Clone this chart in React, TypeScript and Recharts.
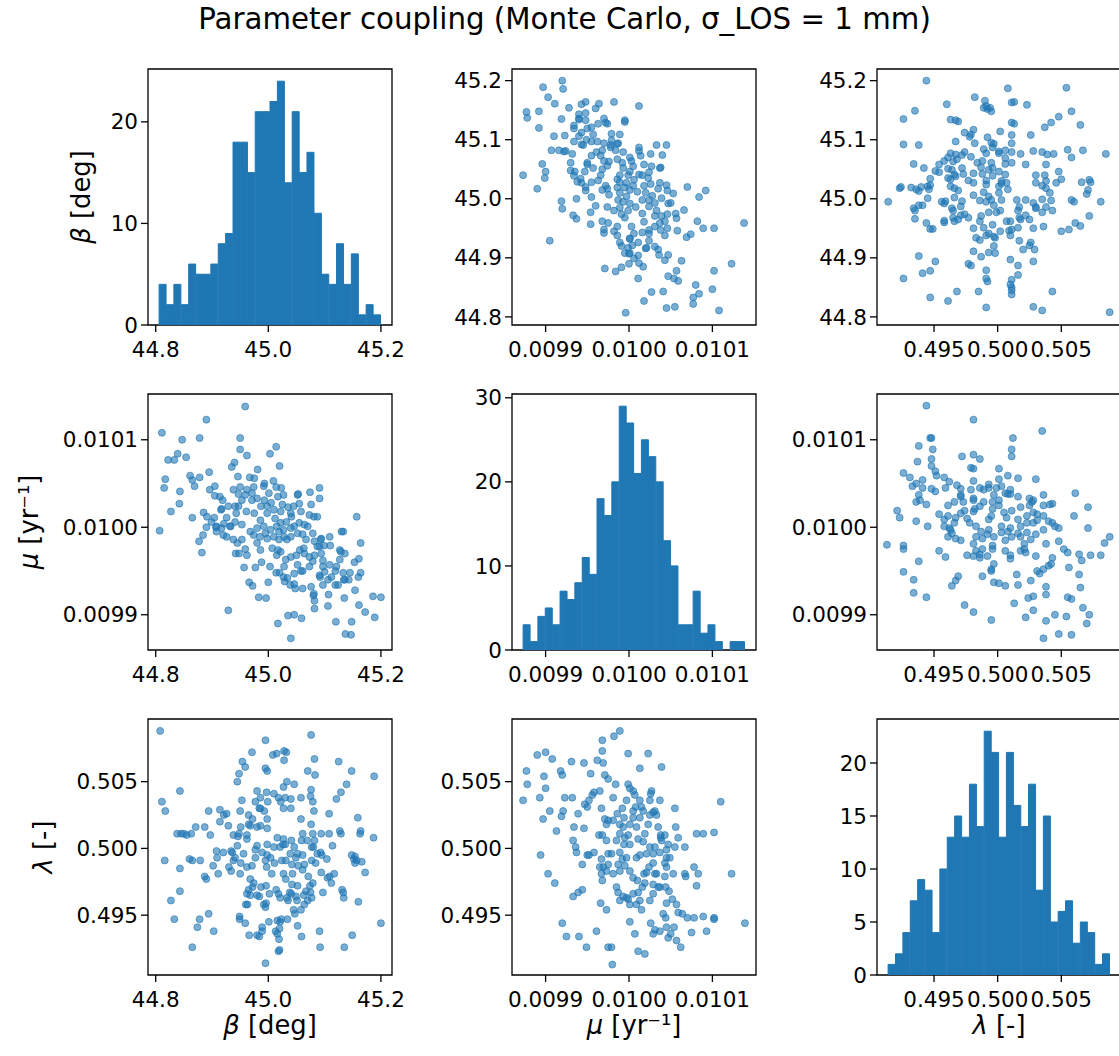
import React from 'react';
import { ScatterChart, Scatter, ComposedChart, Bar, XAxis, YAxis, ReferenceArea, Label } from 'recharts';

const FONT = '"DejaVu Sans", Verdana, sans-serif';
const BLUE = '#1f77b4';

// histogram: sample min/max and counts for 30 bins
const betaRange = [44.806, 45.2];
const betaCounts = [4, 2, 4, 2, 6, 5, 5, 6, 8, 9, 18, 18, 15, 21, 21, 22, 24, 14, 21, 15, 17, 11, 5, 4, 8, 4, 7, 1, 2, 1];
const muRange = [0.009873, 0.010139];
const muCounts = [3, 1, 4, 5, 3, 7, 6, 8, 11, 9, 18, 16, 20, 29, 27, 21, 25, 23, 20, 13, 10, 3, 3, 7, 2, 3, 1, 0, 1, 1];
const lamRange = [0.49139, 0.50882];
const lamCounts = [1, 2, 4, 7, 9, 8, 4, 10, 13, 15, 13, 18, 14, 23, 21, 13, 21, 16, 14, 18, 8, 15, 5, 6, 7, 3, 5, 4, 1, 2];

// tick labels
const betaTicks = [44.8, 45.0, 45.2];
const betaTicksFine = [44.8, 44.9, 45.0, 45.1, 45.2];
const muTicks = [0.0099, 0.01, 0.0101];
const lamTicks = [0.495, 0.5, 0.505];
const betaCountTicks = [0, 10, 20];
const muCountTicks = [0, 10, 20, 30];
const lamCountTicks = [0, 5, 10, 15, 20];

// Monte Carlo samples: [beta, mu]
const betaMu: [number, number][] = [
  [44.959, 0.010138], [44.890, 0.010123], [44.811, 0.010108], [44.878, 0.010102], [44.847, 0.010100], [44.950, 0.010102], [45.014, 0.010092], [44.950, 0.010089], [44.962, 0.010082], [45.003, 0.010084],
  [45.020, 0.010070], [44.822, 0.010077], [44.839, 0.010084], [44.833, 0.010077], [44.854, 0.010080], [44.935, 0.010069], [44.940, 0.010074], [44.981, 0.010066], [44.817, 0.010055], [44.815, 0.010045],
  [44.843, 0.010041], [44.861, 0.010059], [44.865, 0.010054], [44.869, 0.010047], [44.878, 0.010057], [44.895, 0.010063], [44.946, 0.010058], [44.975, 0.010056], [44.993, 0.010050], [45.009, 0.010053],
  [45.091, 0.010045], [45.091, 0.010033], [45.074, 0.010040], [45.053, 0.010038], [45.023, 0.010045], [44.896, 0.010043], [44.905, 0.010047], [44.914, 0.010035], [44.919, 0.010031], [44.905, 0.010036],
  [44.827, 0.010018], [44.842, 0.010027], [44.865, 0.010011], [44.885, 0.010017], [44.891, 0.010012], [44.904, 0.010011], [44.916, 0.010020], [44.926, 0.010011], [44.933, 0.010001], [44.890, 0.010000],
  [44.907, 0.010000], [44.877, 0.009984], [44.884, 0.009991], [44.908, 0.009995], [44.920, 0.009991], [44.926, 0.009989], [44.938, 0.009986], [44.945, 0.009982], [44.948, 0.009970], [44.959, 0.009975],
  [44.962, 0.009968], [44.942, 0.009970], [44.882, 0.009971], [44.807, 0.009996], [44.957, 0.009954], [44.977, 0.009954], [44.988, 0.009960], [45.003, 0.009955], [45.014, 0.009948], [45.020, 0.009948],
  [45.029, 0.009938], [45.046, 0.009935], [45.027, 0.009943], [45.000, 0.009937], [44.966, 0.009937], [44.972, 0.009933], [44.983, 0.009920], [44.996, 0.009919], [44.929, 0.009905], [45.017, 0.009890],
  [45.035, 0.009899], [45.046, 0.009900], [45.040, 0.009873], [45.059, 0.009896], [45.080, 0.009922], [45.082, 0.009916], [45.082, 0.009907], [45.106, 0.009910], [45.120, 0.009892], [45.137, 0.009878],
  [45.147, 0.009877], [45.148, 0.009892], [45.161, 0.009911], [45.172, 0.009903], [45.189, 0.009897], [45.186, 0.009921], [45.200, 0.009920], [45.154, 0.009928], [45.160, 0.009943], [45.164, 0.009948],
  [45.153, 0.009960], [45.161, 0.009964], [45.157, 0.010012], [45.130, 0.009995], [45.133, 0.009995], [45.164, 0.009982], [45.127, 0.009974], [45.127, 0.009963], [45.119, 0.009950], [45.133, 0.009948],
  [45.134, 0.009940], [45.112, 0.009943], [45.106, 0.009940], [45.119, 0.009934], [45.135, 0.009919], [45.124, 0.009934], [45.100, 0.009949], [45.091, 0.009945], [45.109, 0.009989], [45.110, 0.009979],
  [45.094, 0.009987], [45.097, 0.009962], [45.092, 0.009943], [45.082, 0.009968], [45.079, 0.009961], [45.073, 0.009966], [45.063, 0.009976], [45.056, 0.009974], [45.061, 0.009950], [45.058, 0.009950],
  [45.046, 0.009947], [45.028, 0.009955], [45.031, 0.009963], [45.040, 0.009966], [45.050, 0.009968], [45.076, 0.009932], [45.091, 0.009978], [45.093, 0.009986], [45.076, 0.010026], [45.073, 0.010014],
  [45.058, 0.010018], [45.045, 0.010024], [45.041, 0.010012], [45.046, 0.010001], [45.064, 0.010003], [45.070, 0.010001], [45.081, 0.010012], [45.087, 0.010012], [45.079, 0.009993], [45.061, 0.009992],
  [45.052, 0.009993], [45.040, 0.009989], [45.033, 0.009986], [45.028, 0.009989], [45.019, 0.009986], [45.022, 0.010005], [45.027, 0.010037], [45.014, 0.010046], [45.017, 0.010035], [45.025, 0.010026],
  [45.010, 0.010020], [44.998, 0.010016], [44.992, 0.010001], [44.986, 0.010008], [44.987, 0.010024], [44.980, 0.010033], [44.971, 0.010039], [44.962, 0.010043], [44.959, 0.010037], [44.953, 0.010031],
  [44.947, 0.010024], [44.941, 0.010024], [44.943, 0.010016], [44.961, 0.010018], [44.975, 0.010016], [44.980, 0.009999], [44.974, 0.009991], [44.998, 0.009987], [45.010, 0.009989], [45.007, 0.009976],
  [45.017, 0.009974], [45.015, 0.009968], [45.022, 0.009972], [44.986, 0.009974], [44.980, 0.009982], [44.968, 0.009995], [44.953, 0.010003], [44.941, 0.010006], [44.974, 0.010046], [44.992, 0.010047],
  [45.001, 0.010039], [45.005, 0.010028], [45.012, 0.010010], [45.032, 0.010006], [45.040, 0.010016], [45.035, 0.010023], [45.052, 0.010037], [45.055, 0.010027], [45.022, 0.010018], [45.027, 0.009997],
  [45.004, 0.009997], [44.995, 0.009993], [44.985, 0.009989], [44.953, 0.009986], [44.932, 0.010001], [44.921, 0.010004], [44.917, 0.009999], [44.908, 0.010001], [44.899, 0.010006], [44.917, 0.010021],
  [44.929, 0.010024], [44.947, 0.010038], [44.938, 0.010043], [44.950, 0.010046], [44.967, 0.010057], [44.971, 0.010031], [44.993, 0.010031], [44.998, 0.010024], [45.015, 0.010001], [45.019, 0.009995],
  [45.040, 0.009999], [45.055, 0.010005], [45.067, 0.009986], [45.082, 0.009984], [45.064, 0.009970], [45.087, 0.009978], [45.099, 0.009979], [45.097, 0.009955], [45.073, 0.009955], [45.052, 0.009957],
  [45.034, 0.009942], [45.039, 0.009934], [45.048, 0.009930], [45.061, 0.009930], [45.081, 0.009924], [45.097, 0.009934], [45.107, 0.009923], [45.143, 0.009940], [45.136, 0.009940], [45.145, 0.009948],
  [45.129, 0.009972], [45.136, 0.009970], [45.121, 0.009955], [45.109, 0.009957], [45.094, 0.009970],
];

// [beta, lambda]
const betaLam: [number, number][] = [
  [44.808, 0.5088], [44.811, 0.5035], [44.817, 0.5028], [44.843, 0.5043], [44.816, 0.4991], [44.843, 0.4985], [44.843, 0.4968], [44.827, 0.4961], [44.833, 0.4947], [44.874, 0.4941],
  [44.878, 0.4947], [44.894, 0.4951], [44.903, 0.4938], [44.865, 0.4926], [44.838, 0.5011], [44.845, 0.5011], [44.850, 0.5011], [44.855, 0.5010], [44.863, 0.5011], [44.871, 0.5016],
  [44.887, 0.5016], [44.897, 0.5010], [44.860, 0.4992], [44.865, 0.4991], [44.879, 0.4991], [44.887, 0.4979], [44.890, 0.4977], [44.902, 0.4987], [44.911, 0.4981], [44.894, 0.5028],
  [44.914, 0.5029], [44.914, 0.5020], [44.921, 0.5025], [44.926, 0.5026], [44.929, 0.5017], [44.908, 0.4998], [44.909, 0.4993], [44.920, 0.4997], [44.934, 0.4998], [44.930, 0.4986],
  [44.934, 0.4983], [44.938, 0.4991], [44.945, 0.5002], [44.946, 0.5009], [44.948, 0.5011], [44.951, 0.5016], [44.938, 0.5010], [44.962, 0.5010], [44.968, 0.5017], [44.965, 0.5025],
  [44.950, 0.5028], [44.953, 0.5036], [44.945, 0.5050], [44.948, 0.5056], [44.959, 0.5061], [44.954, 0.5065], [44.971, 0.5072], [44.995, 0.5081], [44.995, 0.5060], [44.998, 0.5058],
  [45.008, 0.5070], [45.015, 0.5071], [45.028, 0.5073], [45.032, 0.5072], [45.028, 0.5066], [45.076, 0.5085], [45.082, 0.5067], [45.070, 0.5058], [45.083, 0.5055], [45.125, 0.5065],
  [45.148, 0.5058], [45.188, 0.5054], [45.139, 0.5048], [45.129, 0.5042], [45.121, 0.5037], [45.108, 0.5026], [45.127, 0.5013], [45.129, 0.5011], [45.159, 0.5023], [45.164, 0.5013],
  [45.163, 0.5011], [45.187, 0.5008], [45.148, 0.4995], [45.157, 0.4991], [45.154, 0.4989], [45.166, 0.4990], [45.172, 0.4982], [45.160, 0.4960], [45.131, 0.4969], [45.133, 0.4967],
  [45.134, 0.4963], [45.200, 0.4944], [45.149, 0.4935], [45.135, 0.4926], [45.092, 0.4926], [45.091, 0.4938], [45.059, 0.4934], [45.052, 0.4942], [45.047, 0.4951], [45.045, 0.4954],
  [45.034, 0.4947], [45.035, 0.4961], [45.020, 0.4940], [45.021, 0.4945], [45.016, 0.4936], [45.019, 0.4932], [45.020, 0.4924], [45.018, 0.4923], [45.013, 0.4938], [45.016, 0.4946],
  [45.023, 0.4947], [45.001, 0.4945], [44.995, 0.4914], [44.980, 0.4935], [44.989, 0.4941], [44.989, 0.4938], [44.984, 0.4934], [44.966, 0.4935], [44.959, 0.4944], [44.949, 0.4949],
  [44.949, 0.4947], [44.960, 0.4958], [44.963, 0.4958], [44.968, 0.4965], [44.965, 0.4969], [44.962, 0.4966], [44.972, 0.4971], [44.974, 0.4974], [44.980, 0.4965], [44.984, 0.4964],
  [44.992, 0.4958], [44.995, 0.4956], [44.996, 0.4959], [44.987, 0.4971], [44.996, 0.4972], [45.002, 0.4966], [45.014, 0.4969], [45.018, 0.4966], [45.021, 0.4963], [45.033, 0.4963],
  [45.038, 0.4967], [45.049, 0.4964], [45.051, 0.4961], [45.063, 0.4965], [45.067, 0.4968], [45.074, 0.4972], [45.079, 0.4974], [45.075, 0.4967], [45.077, 0.4963], [45.070, 0.4961],
  [45.064, 0.4958], [45.058, 0.4954], [45.082, 0.5006], [45.080, 0.5001], [45.093, 0.4997], [45.095, 0.4995], [45.087, 0.4996], [45.084, 0.4989], [45.094, 0.4982], [45.105, 0.4978],
  [45.109, 0.4979], [45.112, 0.4974], [45.097, 0.4967], [45.071, 0.4979], [45.061, 0.4984], [45.064, 0.4988], [45.061, 0.4995], [45.049, 0.4993], [45.046, 0.5001], [45.041, 0.5006],
  [45.027, 0.5007], [45.016, 0.5008], [45.010, 0.5001], [45.004, 0.4993], [44.995, 0.4991], [44.997, 0.4986], [45.006, 0.4981], [45.011, 0.4989], [45.024, 0.4991], [45.031, 0.4991],
  [45.027, 0.4981], [45.031, 0.4977], [45.043, 0.4981], [45.052, 0.4972], [45.042, 0.4973], [45.041, 0.4966], [45.021, 0.5001], [45.026, 0.5003], [45.039, 0.4996], [45.052, 0.4996],
  [45.059, 0.5006], [45.061, 0.5011], [45.069, 0.5006], [45.077, 0.5001], [45.094, 0.5011], [45.079, 0.5011], [45.076, 0.5018], [45.058, 0.5022], [45.081, 0.5028], [45.079, 0.5035],
  [45.075, 0.5039], [45.076, 0.5044], [45.058, 0.5038], [45.046, 0.5048], [45.033, 0.5050], [45.027, 0.5046], [45.030, 0.5038], [45.040, 0.5037], [45.018, 0.5038], [45.040, 0.5030],
  [45.027, 0.5030], [45.022, 0.5035], [45.010, 0.5041], [44.997, 0.5042], [44.986, 0.5038], [44.980, 0.5043], [44.977, 0.5035], [44.984, 0.5030], [44.993, 0.5028], [44.998, 0.5022],
  [44.998, 0.5015], [44.986, 0.5017], [44.980, 0.5016], [44.972, 0.5022], [44.965, 0.5018], [44.962, 0.5007], [44.980, 0.5002], [44.977, 0.4999], [44.989, 0.4997], [44.998, 0.4995],
  [44.977, 0.4993], [44.971, 0.4987], [44.962, 0.4986], [44.956, 0.4996], [44.951, 0.4989], [44.941, 0.4993], [44.936, 0.4997], [45.042, 0.4988], [45.053, 0.4987], [45.077, 0.4991],
  [44.999, 0.5035], [44.986, 0.5030], [44.998, 0.5003], [45.030, 0.5003], [45.114, 0.5002], [45.104, 0.4992], [45.108, 0.5011], [45.154, 0.4994], [45.117, 0.4981], [45.152, 0.4992],
  [44.968, 0.4977], [44.950, 0.4981],
];

// [mu, lambda]
const muLam: [number, number][] = [
  [0.009873, 0.5036], [0.009878, 0.5048], [0.009877, 0.5058], [0.009890, 0.5070], [0.009900, 0.5072], [0.009908, 0.5067], [0.009898, 0.5054], [0.009900, 0.5045], [0.009893, 0.5038], [0.009905, 0.5028],
  [0.009897, 0.5022], [0.009894, 0.4995], [0.009903, 0.4981], [0.009911, 0.4974], [0.009913, 0.5013], [0.009919, 0.5024], [0.009921, 0.5028], [0.009918, 0.5058], [0.009920, 0.5055], [0.009923, 0.5038],
  [0.009931, 0.5065], [0.009932, 0.5038], [0.009934, 0.5016], [0.009933, 0.5006], [0.009936, 0.5001], [0.009937, 0.4997], [0.009939, 0.5026], [0.009946, 0.5015], [0.009946, 0.5064], [0.009947, 0.5033],
  [0.009950, 0.5031], [0.009952, 0.5036], [0.009954, 0.5056], [0.009956, 0.5040], [0.009958, 0.5042], [0.009965, 0.5043], [0.009968, 0.5081], [0.009968, 0.5073], [0.009962, 0.5066], [0.009969, 0.5064],
  [0.009971, 0.5055], [0.009975, 0.5052], [0.009967, 0.5030], [0.009971, 0.5022], [0.009973, 0.5018], [0.009975, 0.5021], [0.009964, 0.5010], [0.009968, 0.5010], [0.009950, 0.4995], [0.009944, 0.4988],
  [0.009952, 0.4995], [0.009958, 0.4997], [0.009967, 0.4992], [0.009965, 0.4986], [0.009967, 0.4981], [0.009968, 0.4976], [0.009973, 0.4983], [0.009975, 0.4996], [0.009979, 0.4996], [0.009982, 0.5084],
  [0.009989, 0.5088], [0.009999, 0.5071], [0.009981, 0.5038], [0.009984, 0.5048], [0.009986, 0.5026], [0.009989, 0.5018], [0.009992, 0.5030], [0.009994, 0.5023], [0.009997, 0.5036], [0.009999, 0.5048],
  [0.010001, 0.5045], [0.010005, 0.5043], [0.010007, 0.5040], [0.010008, 0.5031], [0.009999, 0.5010], [0.010001, 0.5003], [0.009994, 0.5003], [0.009985, 0.5006], [0.009989, 0.4997], [0.009992, 0.4992],
  [0.009995, 0.4987], [0.009989, 0.4983], [0.009985, 0.4971], [0.009987, 0.4967], [0.009993, 0.4964], [0.009997, 0.4963], [0.009999, 0.4962], [0.010001, 0.4958], [0.010005, 0.4966], [0.010009, 0.4958],
  [0.010013, 0.4961], [0.010015, 0.4954], [0.010011, 0.4967], [0.010016, 0.4971], [0.010018, 0.4981], [0.010021, 0.4982], [0.010024, 0.4986], [0.010029, 0.4989], [0.010033, 0.4981], [0.010037, 0.4997],
  [0.010045, 0.4999], [0.010047, 0.5003], [0.010043, 0.5010], [0.010038, 0.5010], [0.010031, 0.5001], [0.010025, 0.5001], [0.010017, 0.5005], [0.010013, 0.4995], [0.010009, 0.4993], [0.010019, 0.5011],
  [0.010023, 0.5018], [0.010025, 0.5025], [0.010029, 0.5027], [0.010031, 0.5028], [0.010027, 0.5043], [0.010026, 0.5041], [0.010013, 0.5060], [0.010023, 0.5071], [0.010039, 0.5061], [0.010033, 0.5025],
  [0.010035, 0.5016], [0.010038, 0.5008], [0.010043, 0.4979], [0.010044, 0.4971], [0.010048, 0.4968], [0.010053, 0.4981], [0.010052, 0.4962], [0.010045, 0.4959], [0.010041, 0.4951], [0.010044, 0.4948],
  [0.010026, 0.4944], [0.010029, 0.4936], [0.010031, 0.4939], [0.010037, 0.4938], [0.010045, 0.4941], [0.010047, 0.4933], [0.010050, 0.4936], [0.010054, 0.4941], [0.010057, 0.4931], [0.010062, 0.4926],
  [0.010059, 0.4952], [0.010064, 0.4951], [0.010070, 0.4948], [0.010078, 0.4948], [0.010089, 0.4949], [0.010102, 0.4948], [0.010102, 0.4947], [0.010093, 0.4938], [0.010075, 0.4937], [0.010057, 0.4958],
  [0.010068, 0.4979], [0.010067, 0.4981], [0.010078, 0.4986], [0.010083, 0.4981], [0.010081, 0.4972], [0.010055, 0.5030], [0.010056, 0.5016], [0.010067, 0.5001], [0.010081, 0.5011], [0.010089, 0.5011],
  [0.010102, 0.5012], [0.010123, 0.4981], [0.010139, 0.4944], [0.010110, 0.5035], [0.009975, 0.4926], [0.009979, 0.4926], [0.009980, 0.4913], [0.009961, 0.4938], [0.009940, 0.4934], [0.009949, 0.4926],
  [0.009925, 0.4934], [0.009920, 0.4944], [0.010011, 0.4923], [0.010019, 0.4921], [0.010001, 0.4945], [0.010007, 0.4936], [0.009989, 0.4961], [0.009973, 0.4954], [0.009966, 0.4959], [0.009933, 0.4964],
  [0.009939, 0.4967], [0.009944, 0.4969], [0.009969, 0.4986], [0.009995, 0.5008], [0.010005, 0.5023], [0.010015, 0.5031], [0.010025, 0.5036], [0.010011, 0.5007], [0.010001, 0.4983], [0.010005, 0.4978],
  [0.010010, 0.4976], [0.010019, 0.4974], [0.010029, 0.4973], [0.010037, 0.4971], [0.010029, 0.4966], [0.010035, 0.4971], [0.010025, 0.4961], [0.010031, 0.4981], [0.010043, 0.4989], [0.010045, 0.4993],
  [0.010029, 0.4996], [0.010021, 0.4996], [0.009997, 0.4993], [0.009987, 0.4988], [0.009981, 0.4981], [0.009975, 0.4988], [0.009989, 0.5011], [0.009973, 0.5006], [0.009981, 0.5021], [0.009993, 0.5016],
  [0.010001, 0.5018], [0.010009, 0.5016], [0.010013, 0.5023], [0.010017, 0.5028], [0.010013, 0.5036], [0.010005, 0.5028], [0.010039, 0.5006], [0.010045, 0.4986], [0.010055, 0.5001], [0.010059, 0.5008],
  [0.010037, 0.5036], [0.010049, 0.4993],
];

// layout of the 3x3 grid (axes boxes)
const COL_X = [148, 512, 877];
const ROW_Y = [69, 394, 719];
const BOX_W = 244;
const BOX_H = 256;
const AXIS_W = 148;
const PAD_T = 10;
const PAD_R = 40;
const X_AXIS_H = 80;
const CHART_W = AXIS_W + BOX_W + PAD_R;
const CHART_H = PAD_T + BOX_H + X_AXIS_H;
const YLABEL_X = [89.6, 38, 51.7];

const pad = (r: number[]): [number, number] => {
  const m = (r[1] - r[0]) * 0.05;
  return [r[0] - m, r[1] + m];
};

const vars = [
  {
    range: betaRange, xTicks: betaTicks, yTicks: betaTicksFine, counts: betaCounts, countTicks: betaCountTicks,
    fmt: (v: number) => v.toFixed(1),
    label: <><tspan fontStyle="italic">β</tspan>{' [deg]'}</>,
  },
  {
    range: muRange, xTicks: muTicks, yTicks: muTicks, counts: muCounts, countTicks: muCountTicks,
    fmt: (v: number) => v.toFixed(4),
    label: <><tspan fontStyle="italic">μ</tspan>{' [yr⁻¹]'}</>,
  },
  {
    range: lamRange, xTicks: lamTicks, yTicks: lamTicks, counts: lamCounts, countTicks: lamCountTicks,
    fmt: (v: number) => v.toFixed(3),
    label: <><tspan fontStyle="italic">λ</tspan>{' [-]'}</>,
  },
];

const pairs: Record<string, [number, number][]> = { '0-1': betaMu, '0-2': betaLam, '1-2': muLam };

const tickStyle = { fill: '#000', fontSize: 21.5, fontFamily: FONT };
const tickLine = { stroke: '#000', strokeWidth: 1.3 };

const xLabel = (text: React.ReactNode) => (props: any) => {
  const vb = props.viewBox;
  return (
    <text x={vb.x + vb.width / 2} y={vb.y + 59} textAnchor="middle" fontSize={25.8} fontFamily={FONT} fill="#000">
      {text}
    </text>
  );
};

const yLabel = (text: React.ReactNode, x: number) => (props: any) => {
  const vb = props.viewBox;
  const cy = vb.y + vb.height / 2;
  return (
    <text x={x} y={cy} transform={`rotate(-90, ${x}, ${cy})`} textAnchor="middle" fontSize={25.8} fontFamily={FONT} fill="#000">
      {text}
    </text>
  );
};

const dot = (p: any) => (
  <circle cx={p.cx} cy={p.cy} r={3.5} fill={BLUE} fillOpacity={0.6} stroke={BLUE} strokeOpacity={0.6} strokeWidth={1} />
);

function Cell({ row, col }: { row: number; col: number }) {
  const xv = vars[col];
  const yv = vars[row];
  const xd = pad(xv.range);
  const style: React.CSSProperties = { position: 'absolute', left: COL_X[col] - AXIS_W, top: ROW_Y[row] - PAD_T };
  const margin = { top: PAD_T, right: PAD_R, bottom: 0, left: 0 };

  const xAxis = (
    <XAxis type="number" dataKey="x" domain={xd} allowDataOverflow ticks={xv.xTicks} tickFormatter={xv.fmt}
      interval={0} height={X_AXIS_H} tick={tickStyle} tickLine={tickLine} axisLine={false} tickSize={7} tickMargin={10}>
      {row === 2 && <Label content={xLabel(xv.label)} />}
    </XAxis>
  );

  if (row === col) {
    const [lo, hi] = xv.range;
    const w = (hi - lo) / xv.counts.length;
    const data = xv.counts.map((n, i) => ({ x: lo + (i + 0.5) * w, n }));
    const yd: [number, number] = [0, Math.max(...xv.counts) * 1.05];
    return (
      <div style={style}>
        <ComposedChart width={CHART_W} height={CHART_H} data={data} margin={margin} barCategoryGap={0} barGap={0}>
          {xAxis}
          <YAxis type="number" domain={yd} allowDataOverflow ticks={xv.countTicks} interval={0} width={AXIS_W}
            tick={tickStyle} tickLine={tickLine} axisLine={false} tickSize={7} tickMargin={3}>
            {col === 0 && <Label content={yLabel(yv.label, YLABEL_X[row])} />}
          </YAxis>
          <Bar dataKey="n" fill={BLUE} stroke={BLUE} strokeWidth={1} isAnimationActive={false} />
          <ReferenceArea x1={xd[0]} x2={xd[1]} y1={yd[0]} y2={yd[1]} fill="none" stroke="#000" strokeWidth={1.3} ifOverflow="visible" />
        </ComposedChart>
      </div>
    );
  }

  const yd = pad(yv.range);
  const src = col < row ? pairs[`${col}-${row}`] : pairs[`${row}-${col}`];
  const data = src.map((p) => (col < row ? { x: p[0], y: p[1] } : { x: p[1], y: p[0] }));
  return (
    <div style={style}>
      <ScatterChart width={CHART_W} height={CHART_H} margin={margin}>
        {xAxis}
        <YAxis type="number" dataKey="y" domain={yd} allowDataOverflow ticks={yv.yTicks} tickFormatter={yv.fmt} interval={0}
          width={AXIS_W} tick={tickStyle} tickLine={tickLine} axisLine={false} tickSize={7} tickMargin={3}>
          {col === 0 && <Label content={yLabel(yv.label, YLABEL_X[row])} />}
        </YAxis>
        <Scatter data={data} shape={dot} isAnimationActive={false} />
        <ReferenceArea x1={xd[0]} x2={xd[1]} y1={yd[0]} y2={yd[1]} fill="none" stroke="#000" strokeWidth={1.3} ifOverflow="visible" />
      </ScatterChart>
    </div>
  );
}

export default function App() {
  const cells = [];
  for (let r = 0; r < 3; r++) for (let c = 0; c < 3; c++) cells.push(<Cell key={`${r}-${c}`} row={r} col={c} />);
  return (
    <div style={{ position: 'absolute', left: 0, top: 0, width: 1119, height: 1056, overflow: 'hidden', background: '#fff', fontFamily: FONT }}>
      <div style={{ position: 'absolute', left: 0, top: 5, width: 1129, textAlign: 'center', fontSize: 29.3, lineHeight: '29px', color: '#000' }}>
        Parameter coupling (Monte Carlo, σ_LOS = 1 mm)
      </div>
      {cells}
    </div>
  );
}
